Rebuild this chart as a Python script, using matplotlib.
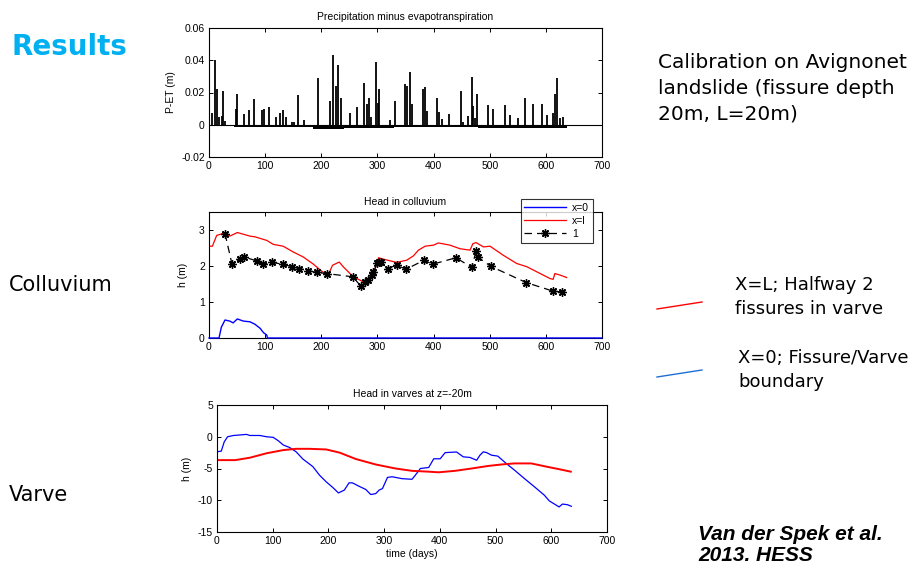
import matplotlib
matplotlib.use("Agg")
import matplotlib.pyplot as plt
from matplotlib.lines import Line2D

plt.rcParams["font.family"] = ["Liberation Sans", "DejaVu Sans"]
plt.rcParams["axes.unicode_minus"] = False

# ---- Precipitation minus evapotranspiration (daily rain events) ----
rain_day = [6, 10.7, 14, 17, 22.5, 25.5, 29, 48, 50.5, 63, 71, 81, 94, 98, 107,
            119, 126, 131, 138, 147, 152, 158, 169, 195, 215.5, 220, 226, 230,
            234.5, 252, 264, 276.7, 281, 285, 289, 297.5, 300.5, 303.4, 322,
            331, 349, 352, 358, 361, 382, 385, 389, 405.6, 409, 415, 427.5,
            448, 453, 462, 468, 471, 474, 477, 496.4, 506.5, 527, 536, 551,
            563, 576.6, 592.6, 601.5, 613.4, 617, 619, 625, 631]
rain_val = [0.0075, 0.040, 0.022, 0.005, 0.0055, 0.021, 0.0025, 0.0095, 0.019,
            0.0065, 0.009, 0.0157, 0.009, 0.010, 0.011, 0.0045, 0.007, 0.009,
            0.0045, 0.0017, 0.0017, 0.0187, 0.003, 0.0288, 0.0145, 0.0433,
            0.024, 0.037, 0.0163, 0.0075, 0.011, 0.026, 0.013, 0.0165, 0.005,
            0.039, 0.0137, 0.0224, 0.0027, 0.0147, 0.0255, 0.024, 0.0327,
            0.0126, 0.022, 0.0236, 0.0085, 0.0164, 0.008, 0.0033, 0.0068,
            0.021, 0.0017, 0.0054, 0.0298, 0.0116, 0.0044, 0.019, 0.0124,
            0.0095, 0.012, 0.0058, 0.0044, 0.0168, 0.013, 0.013, 0.0058,
            0.0073, 0.019, 0.029, 0.0042, 0.005]
# evapotranspiration deficit between rain events
et_start = [0, 45, 140, 185, 240, 330, 380, 480, 540]
et_end = [45, 140, 185, 240, 330, 380, 480, 540, 637]
et_rate = [-0.0003, -0.0011, -0.0015, -0.0025, -0.0018, -0.0012, -0.0014,
           -0.0018, -0.0022]

# ---- Head in colluvium ----
coll_x0_t = [0, 17.8, 22, 28.5, 37, 43, 50.5, 61, 73, 82, 91, 97, 103, 104, 700]
coll_x0_h = [0, 0, 0.3, 0.5, 0.47, 0.42, 0.53, 0.47, 0.45, 0.38, 0.27, 0.15,
             0.08, 0, 0]
coll_xl_t = [0, 6, 13.7, 28.5, 37, 50.5, 73, 82, 103, 114.6, 132, 150, 168, 186,
             195, 204, 212.6, 220, 232, 239, 257, 275, 287, 296, 302, 310.6,
             334, 352, 364, 373, 385, 400, 408.5, 429, 447, 465, 470, 475.6,
             489, 500.6, 524, 548, 566, 590, 607.5, 613, 616, 625, 637]
coll_xl_h = [2.55, 2.55, 2.85, 2.92, 2.83, 2.93, 2.83, 2.81, 2.71, 2.6, 2.55,
             2.39, 2.25, 2.05, 1.93, 1.82, 1.76, 2.02, 2.11, 1.98, 1.7, 1.56,
             1.7, 1.93, 2.23, 2.19, 2.1, 2.16, 2.28, 2.44, 2.55, 2.58, 2.64,
             2.58, 2.48, 2.44, 2.62, 2.65, 2.53, 2.55, 2.3, 2.07, 1.98, 1.79,
             1.65, 1.63, 1.79, 1.75, 1.68]
obs_t = [28.5, 41, 55, 63, 85, 97, 111.6, 132, 147, 161, 177, 192, 209.6, 256,
         270, 278, 284, 290, 293, 299, 302, 306, 318, 334, 351, 383, 398.5,
         440, 468, 475.6, 478.6, 502, 565, 613, 628]
obs_h = [2.90, 2.05, 2.19, 2.25, 2.14, 2.05, 2.1, 2.05, 1.98, 1.93, 1.87, 1.82,
         1.79, 1.70, 1.45, 1.56, 1.6, 1.75, 1.82, 2.07, 2.1, 2.11, 1.93, 2.02,
         1.91, 2.16, 2.05, 2.23, 1.96, 2.41, 2.25, 1.99, 1.54, 1.30, 1.28]

# ---- Head in varves at z=-20m ----
varve_x0_t = [0, 7.7, 13, 19, 29.7, 53, 59, 77, 89, 101, 110, 119, 130.5, 142,
              154, 172, 184, 196, 208, 218, 228.5, 237, 243, 255, 267, 276,
              285, 291, 297, 306, 314.5, 332, 350, 356, 365, 380, 389, 400.6,
              409.5, 430, 442, 454, 466, 472, 478, 484, 492.6, 504, 519, 534,
              552, 570, 587.5, 596.4, 614, 620, 629, 636]
varve_x0_h = [-2.37, -2.26, -0.8, 0, 0.2, 0.37, 0.2, 0.2, 0, -0.1, -0.63, -1.3,
              -1.7, -2.37, -3.5, -4.7, -6.05, -7.1, -8.0, -8.85, -8.4, -7.26,
              -7.26, -7.8, -8.3, -9.1, -8.95, -8.4, -8.16, -6.4, -6.3, -6.6,
              -6.7, -6.05, -5.0, -4.84, -3.47, -3.47, -2.5, -2.4, -3.16, -3.26,
              -3.7, -2.9, -2.37, -2.5, -2.9, -3.05, -4.2, -5.26, -6.6, -7.9,
              -9.2, -10.1, -11.05, -10.6, -10.7, -10.95]
varve_xl_t = [0, 32.6, 59, 89, 119, 142, 166, 196, 220, 249, 285, 320.5, 350,
              380, 397.6, 427, 457, 486.6, 510, 534, 564, 593, 617, 635]
varve_xl_h = [-3.68, -3.68, -3.3, -2.6, -2.1, -1.9, -1.9, -2.0, -2.5, -3.5,
              -4.37, -5.0, -5.37, -5.5, -5.6, -5.37, -5.0, -4.6, -4.37, -4.2,
              -4.2, -4.74, -5.16, -5.5]

W, H = 924, 568
fig = plt.figure(figsize=(W / 100, H / 100), dpi=100)
fig.patch.set_facecolor("white")


def box(l, t, r, b):
    return [l / W, 1 - b / H, (r - l) / W, (b - t) / H]


def style(ax):
    ax.tick_params(direction="in", top=True, right=True, labelsize=7.5,
                   length=3, width=0.7, pad=3)
    for s in ax.spines.values():
        s.set_linewidth(0.8)


TITLE_FS = 7.5
LABEL_FS = 7.5

# Top panel
ax1 = fig.add_axes(box(209, 28, 602, 157))
ax1.axhline(0, color="k", lw=0.8)
for s, e, r in zip(et_start, et_end, et_rate):
    ax1.fill_between([s, e], [0, 0], [r, r], color="k", lw=0)
ax1.vlines(rain_day, 0, rain_val, color="k", lw=1.3)
ax1.set_xlim(0, 700)
ax1.set_ylim(-0.02, 0.06)
ax1.set_xticks(range(0, 701, 100))
ax1.set_yticks([-0.02, 0, 0.02, 0.04, 0.06])
ax1.set_yticklabels(["-0.02", "0", "0.02", "0.04", "0.06"])
ax1.set_ylabel("P-ET (m)", fontsize=LABEL_FS, labelpad=4)
ax1.set_title("Precipitation minus evapotranspiration", fontsize=TITLE_FS, pad=6)
style(ax1)

# Middle panel
ax2 = fig.add_axes(box(209, 212, 602, 338))
ax2.plot(coll_x0_t, coll_x0_h, color="#0000ff", lw=1.0, label="x=0",
         clip_on=False, zorder=3)
ax2.plot(coll_xl_t, coll_xl_h, color="#ff0000", lw=0.9, label="x=l")
ax2.plot(obs_t, obs_h, color="k", lw=0.9, ls=(0, (6, 4)),
         marker=(8, 2, 0), ms=6, mew=1.0, label="1")
ax2.set_xlim(0, 700)
ax2.set_ylim(0, 3.5)
ax2.set_xticks(range(0, 701, 100))
ax2.set_yticks([0, 1, 2, 3])
ax2.set_ylabel("h (m)", fontsize=LABEL_FS, labelpad=8)
ax2.set_title("Head in colluvium", fontsize=TITLE_FS, pad=5)
style(ax2)
leg = ax2.legend(loc="upper right", bbox_to_anchor=(593 / W, 1 - 199 / H),
                 bbox_transform=fig.transFigure, fontsize=7.5, frameon=True,
                 fancybox=False, edgecolor="k", handlelength=4.0,
                 borderpad=0.35, labelspacing=0.3, handletextpad=0.6,
                 borderaxespad=0)
leg.get_frame().set_linewidth(0.8)
leg.set_zorder(5)

# Bottom panel
ax3 = fig.add_axes(box(217, 405, 607, 532))
ax3.plot(varve_x0_t, varve_x0_h, color="#0000ff", lw=0.9)
ax3.plot(varve_xl_t, varve_xl_h, color="#ff0000", lw=1.4)
ax3.set_xlim(0, 700)
ax3.set_ylim(-15, 5)
ax3.set_xticks(range(0, 701, 100))
ax3.set_yticks([-15, -10, -5, 0, 5])
ax3.set_ylabel("h (m)", fontsize=LABEL_FS, labelpad=4)
ax3.set_xlabel("time (days)", fontsize=LABEL_FS, labelpad=2)
ax3.set_title("Head in varves at z=-20m", fontsize=TITLE_FS, pad=6)
style(ax3)

# Slide annotations
slide_font = ["DejaVu Sans"]
fig.text(12 / W, 1 - 47 / H, "Results", fontsize=20, fontweight="bold",
         color="#00b0f0", va="center", ha="left", family=slide_font)
fig.text(658 / W, 1 - 88 / H,
         "Calibration on Avignonet\nlandslide (fissure depth\n20m, L=20m)",
         fontsize=14.5, va="center", ha="left", linespacing=1.45,
         family=slide_font)
fig.text(9 / W, 1 - 285 / H, "Colluvium", fontsize=15, va="center",
         ha="left", family=slide_font)
fig.text(9 / W, 1 - 495 / H, "Varve", fontsize=15, va="center",
         ha="left", family=slide_font)
fig.text(735 / W, 1 - 297 / H, "X=L; Halfway 2\nfissures in varve",
         fontsize=13, va="center", ha="left", linespacing=1.4,
         family=slide_font)
fig.text(738 / W, 1 - 370 / H, "X=0; Fissure/Varve\nboundary",
         fontsize=13, va="center", ha="left", linespacing=1.4,
         family=slide_font)
fig.add_artist(Line2D([657 / W, 702 / W], [1 - 309 / H, 1 - 302 / H],
                      color="#ff0000", lw=1.0))
fig.add_artist(Line2D([657 / W, 702 / W], [1 - 377 / H, 1 - 370 / H],
                      color="#1e6fd0", lw=1.0))
fig.text(698 / W, 1 - 545 / H, "Van der Spek et al.\n2013. HESS",
         fontsize=15, fontweight="bold", fontstyle="italic", va="center",
         ha="left", linespacing=1.1)

fig.savefig("out.png", dpi=100, facecolor="white")
